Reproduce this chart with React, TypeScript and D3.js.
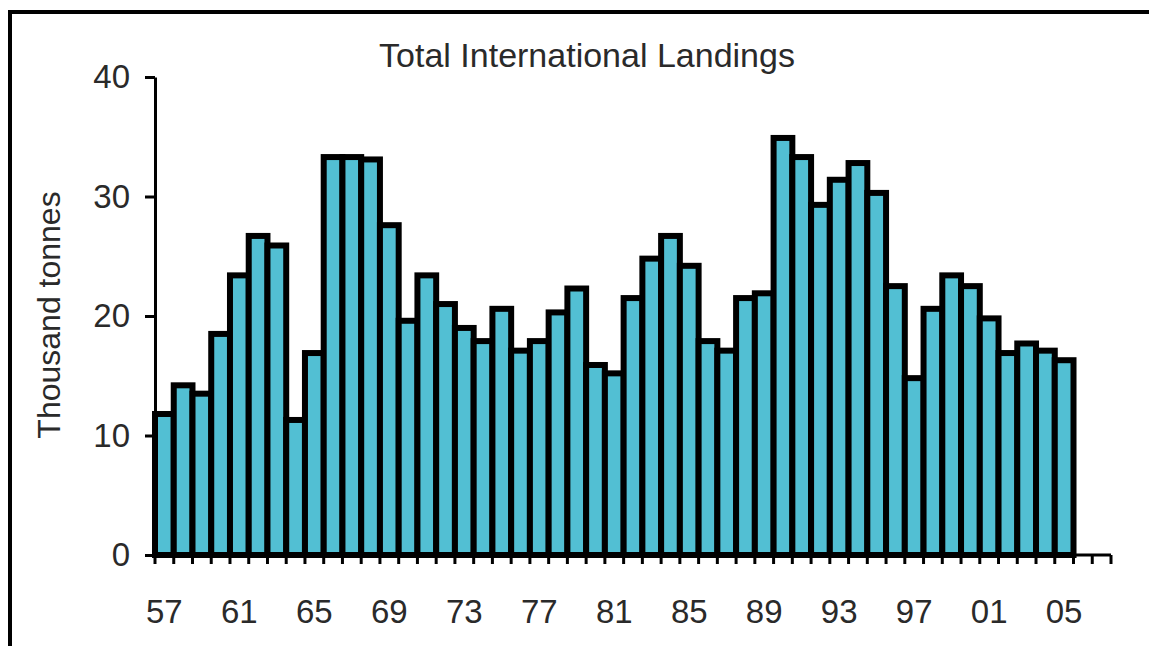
import React, { useEffect, useRef } from 'react';
import * as d3 from 'd3';

// Years shown on the axis (1957 .. 2007), bars exist up to 2005
const years = d3.range(1957, 2008);
const landings = [
  11.8, 14.2, 13.5, 18.5, 23.4, 26.7, 25.9, 11.3, 16.9, 33.3,
  33.3, 33.1, 27.6, 19.6, 23.4, 21.0, 19.0, 17.9, 20.6, 17.1,
  17.9, 20.3, 22.3, 15.9, 15.2, 21.5, 24.8, 26.7, 24.2, 17.9,
  17.1, 21.5, 21.9, 34.9, 33.3, 29.3, 31.4, 32.8, 30.3, 22.5,
  14.8, 20.6, 23.4, 22.5, 19.8, 16.9, 17.7, 17.1, 16.3,
];
const yTicks = [0, 10, 20, 30, 40];
const labelYears = [1957, 1961, 1965, 1969, 1973, 1977, 1981, 1985, 1989, 1993, 1997, 2001, 2005];

const W = 1149;
const H = 646;

export default function App() {
  const svgRef = useRef<SVGSVGElement>(null);

  useEffect(() => {
    if (!svgRef.current) return;
    const svg = d3.select(svgRef.current);
    svg.selectAll('*').remove();

    const font = '"Liberation Sans", Arial, sans-serif';
    const left = 155, right = 1111, top = 77, bottom = 555;

    const x = d3.scaleBand<number>().domain(years).range([left, right]).padding(0);
    const y = d3.scaleLinear().domain([0, 40]).range([bottom, top]);

    svg.append('rect')
      .attr('width', W).attr('height', H).attr('fill', '#fff');

    // outer frame
    svg.append('rect')
      .attr('x', 10).attr('y', 12)
      .attr('width', W + 20).attr('height', H)
      .attr('fill', 'none')
      .attr('stroke', '#000')
      .attr('stroke-width', 4);

    svg.append('text')
      .attr('x', 587).attr('y', 67)
      .attr('text-anchor', 'middle')
      .attr('font-family', font)
      .attr('font-size', 34)
      .attr('fill', '#2a2a2a')
      .text('Total International Landings');

    svg.append('text')
      .attr('transform', `translate(60,${315}) rotate(-90)`)
      .attr('text-anchor', 'middle')
      .attr('font-family', font)
      .attr('font-size', 32)
      .attr('fill', '#2a2a2a')
      .text('Thousand tonnes');

    // bars
    svg.append('g')
      .selectAll('rect')
      .data(landings)
      .enter().append('rect')
      .attr('x', (_, i) => x(years[i]) || 0)
      .attr('width', x.bandwidth())
      .attr('y', d => y(d))
      .attr('height', d => y(0) - y(d))
      .attr('fill', '#52bfd3')
      .attr('stroke', '#000')
      .attr('stroke-width', 6);

    // y axis
    const yAxis = svg.append('g')
      .attr('transform', `translate(${left},0)`)
      .call(d3.axisLeft(y).tickValues(yTicks).tickSize(10).tickPadding(15).tickSizeOuter(0));
    yAxis.select('.domain').attr('stroke', '#000').attr('stroke-width', 3);
    yAxis.selectAll('.tick line').attr('stroke', '#000').attr('stroke-width', 3);
    yAxis.selectAll('.tick text')
      .attr('font-family', font).attr('font-size', 33).attr('fill', '#2a2a2a');

    // x axis: tick at each category boundary, labels every 4 years
    const xAxis = svg.append('g');
    xAxis.append('line')
      .attr('x1', left).attr('x2', right)
      .attr('y1', bottom).attr('y2', bottom)
      .attr('stroke', '#000').attr('stroke-width', 3);
    xAxis.selectAll('.xtick')
      .data([...years, 2008])
      .enter().append('line')
      .attr('class', 'xtick')
      .attr('x1', d => d === 2008 ? right : (x(d) || 0))
      .attr('x2', d => d === 2008 ? right : (x(d) || 0))
      .attr('y1', bottom).attr('y2', bottom + 9)
      .attr('stroke', '#000').attr('stroke-width', 3);
    xAxis.selectAll('.xlabel')
      .data(labelYears)
      .enter().append('text')
      .attr('x', d => (x(d) || 0) + x.bandwidth() / 2)
      .attr('y', 623)
      .attr('text-anchor', 'middle')
      .attr('font-family', font)
      .attr('font-size', 33)
      .attr('fill', '#2a2a2a')
      .text(d => String(d % 100).padStart(2, '0'));
  }, []);

  return (
    <svg
      ref={svgRef}
      width={W}
      height={H}
      style={{ position: 'fixed', left: 0, top: 0 }}
    />
  );
}
